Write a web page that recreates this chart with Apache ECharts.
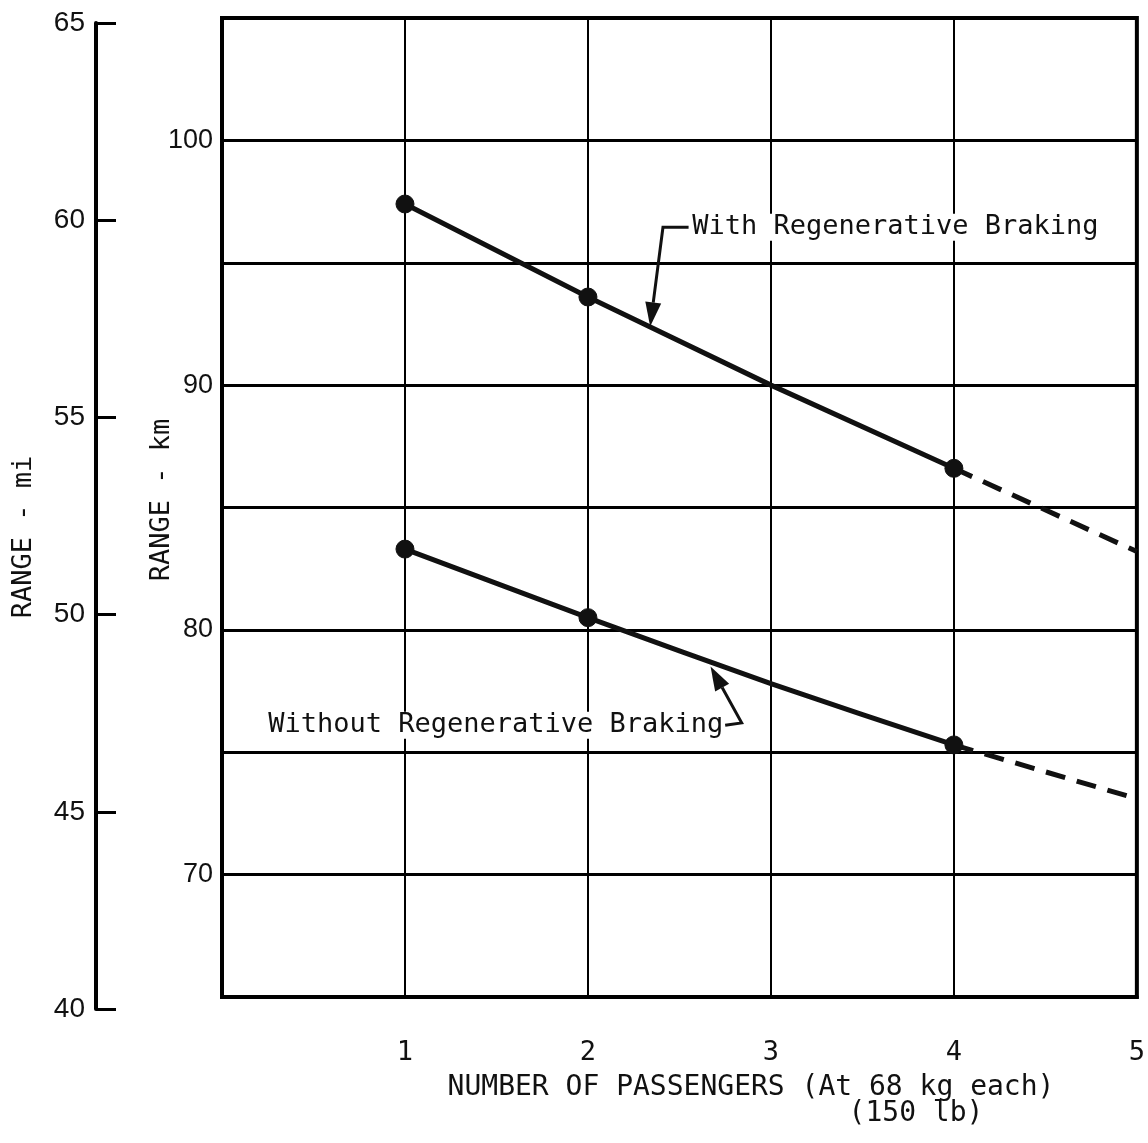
<!DOCTYPE html>
<html>
<head>
<meta charset="utf-8">
<script src="https://cdn.jsdelivr.net/npm/echarts@6/dist/echarts.min.js"></script>
<style>
html,body{margin:0;padding:0;background:#fff;}
#chart{width:1148px;height:1143px;}
</style>
</head>
<body>
<div id="chart"></div>
<script>
// ---- data ----
const passengers = [1, 2, 3, 4];
const hasMarker = [true, true, false, true];
const withRegen = [97.4, 93.6, 90.0, 86.6];
const withoutRegen = [83.3, 80.5, 77.8, 75.3];
const extPassengers = [4, 5];
const withRegenExt = [86.6, 83.2];
const withoutRegenExt = [75.3, 73.1];
const xTicks = [1, 2, 3, 4, 5];
const kmLabels = [70, 80, 90, 100];
const miTicks = [40, 45, 50, 55, 60, 65];

const labelWith = 'With Regenerative Braking';
const labelWithout = 'Without Regenerative Braking';
const xTitle1 = 'NUMBER OF PASSENGERS (At 68 kg each)';
const xTitle2 = '(150 lb)';
const kmTitle = 'RANGE - km';
const miTitle = 'RANGE - mi';

// annotation anchor points in data units [x, km]
const withText = [2.57, 96.45];
const withBend = [2.41, 96.45];
const withTip = [2.34, 92.4];
const withoutTextEnd = [2.74, 76.1];
const withoutBend = [2.84, 76.2];
const withoutTip = [2.67, 78.5];

const MONO = '"DejaVu Sans Mono", monospace';
const SANS = '"Liberation Sans", Arial, sans-serif';

function pts(xs, ys, marks) {
  return xs.map((x, i) => {
    const d = { value: [x, ys[i]] };
    if (marks && !marks[i]) d.symbol = 'none';
    return d;
  });
}

const chart = echarts.init(document.getElementById('chart'), null, { renderer: 'canvas' });

const solidStyle = { color: '#111', width: 5 };
const markStyle = { color: '#111', borderColor: '#111', borderWidth: 1 };

chart.setOption({
  animation: false,
  backgroundColor: '#fff',
  grid: [
    { left: 222, right: 11, top: 18, bottom: 146, show: true, borderColor: '#000', borderWidth: 4, backgroundColor: 'transparent' },
    { left: 96, top: 23, bottom: 134, width: 1, show: false }
  ],
  xAxis: [
    {
      type: 'value', gridIndex: 0, min: 0, max: 5, interval: 1,
      axisLine: { show: true, lineStyle: { color: '#000', width: 4 } },
      axisTick: { show: false },
      splitLine: { show: true, lineStyle: { color: '#000', width: 2 } },
      axisLabel: {
        margin: 42, fontSize: 27, fontFamily: MONO, color: '#111',
        formatter: v => (xTicks.indexOf(v) >= 0 ? String(v) : '')
      }
    },
    { type: 'value', gridIndex: 1, min: 0, max: 1, show: false }
  ],
  yAxis: [
    {
      type: 'value', gridIndex: 0, min: 65, max: 105, interval: 5,
      axisLine: { show: true, lineStyle: { color: '#000', width: 4 } },
      axisTick: { show: false },
      splitLine: { show: true, lineStyle: { color: '#000', width: 3 } },
      axisLabel: {
        margin: 9, fontSize: 27, fontFamily: SANS, color: '#111',
        formatter: v => (kmLabels.indexOf(v) >= 0 ? String(v) : '')
      }
    },
    {
      type: 'value', gridIndex: 1, min: 40, max: 65, interval: 5,
      axisLine: { show: true, lineStyle: { color: '#000', width: 4 } },
      axisTick: { show: true, inside: true, length: 20, lineStyle: { color: '#000', width: 3 } },
      splitLine: { show: false },
      axisLabel: {
        margin: 11, fontSize: 28, fontFamily: SANS, color: '#111',
        formatter: v => (miTicks.indexOf(v) >= 0 ? String(v) : '')
      }
    }
  ],
  series: [
    {
      type: 'line', xAxisIndex: 0, yAxisIndex: 0, name: 'with',
      data: pts(passengers, withRegen, hasMarker),
      symbol: 'circle', symbolSize: 18, lineStyle: solidStyle, itemStyle: markStyle, z: 5
    },
    {
      type: 'line', xAxisIndex: 0, yAxisIndex: 0, name: 'withExt',
      data: pts(extPassengers, withRegenExt), showSymbol: false, symbol: 'none',
      lineStyle: { color: '#111', width: 5, type: [20, 12] }, z: 4
    },
    {
      type: 'line', xAxisIndex: 0, yAxisIndex: 0, name: 'without', smooth: 0.15,
      data: pts(passengers, withoutRegen, hasMarker),
      symbol: 'circle', symbolSize: 18, lineStyle: solidStyle, itemStyle: markStyle, z: 5
    },
    {
      type: 'line', xAxisIndex: 0, yAxisIndex: 0, name: 'withoutExt',
      data: pts(extPassengers, withoutRegenExt), showSymbol: false, symbol: 'none',
      lineStyle: { color: '#111', width: 5, type: [20, 12] }, z: 4
    },
    { type: 'line', xAxisIndex: 1, yAxisIndex: 1, data: [], symbol: 'none' }
  ]
});

function px(p) { return chart.convertToPixel({ gridIndex: 0 }, p); }

function arrow(points) {
  const P = points.map(px);
  const tip = P[P.length - 1], prev = P[P.length - 2];
  const dx = tip[0] - prev[0], dy = tip[1] - prev[1];
  const L = Math.sqrt(dx * dx + dy * dy);
  const ux = dx / L, uy = dy / L;
  const hl = 24, hw = 8;
  const bx = tip[0] - ux * hl, by = tip[1] - uy * hl;
  const shaftEnd = [bx, by];
  return [
    { type: 'polyline', shape: { points: P.slice(0, -1).concat([shaftEnd]) }, style: { stroke: '#111', lineWidth: 3, fill: null }, z: 20 },
    { type: 'polygon', shape: { points: [tip, [bx - uy * hw, by + ux * hw], [bx + uy * hw, by - ux * hw]] }, style: { fill: '#111' }, z: 20 }
  ];
}

const wT = px(withText);
const woT = px(withoutTextEnd);
const graphics = [];
graphics.push({ type: 'text', x: wT[0], y: wT[1], z: 20,
  style: { text: labelWith, fontSize: 27, fontFamily: MONO, fill: '#111', align: 'left', verticalAlign: 'middle', backgroundColor: '#fff' } });
graphics.push({ type: 'text', x: woT[0], y: woT[1], z: 20,
  style: { text: labelWithout, fontSize: 27, fontFamily: MONO, fill: '#111', align: 'right', verticalAlign: 'middle', backgroundColor: '#fff' } });
arrow([[withText[0] - 0.02, withText[1]], withBend, withTip]).forEach(g => graphics.push(g));
arrow([[withoutTextEnd[0] + 0.01, withoutTextEnd[1]], withoutBend, withoutTip]).forEach(g => graphics.push(g));

graphics.push({ type: 'text', x: 751, y: 1088, style: { text: xTitle1, fontSize: 28, fontFamily: MONO, fill: '#111', align: 'center', verticalAlign: 'middle' } });
graphics.push({ type: 'text', x: 916, y: 1114, style: { text: xTitle2, fontSize: 28, fontFamily: MONO, fill: '#111', align: 'center', verticalAlign: 'middle' } });
graphics.push({ type: 'text', x: 162, y: 500, rotation: Math.PI / 2, style: { text: kmTitle, fontSize: 27, fontFamily: MONO, fill: '#111', align: 'center', verticalAlign: 'middle' } });
graphics.push({ type: 'text', x: 24, y: 537, rotation: Math.PI / 2, style: { text: miTitle, fontSize: 27, fontFamily: MONO, fill: '#111', align: 'center', verticalAlign: 'middle' } });

chart.setOption({ graphic: graphics });
</script>
</body>
</html>
